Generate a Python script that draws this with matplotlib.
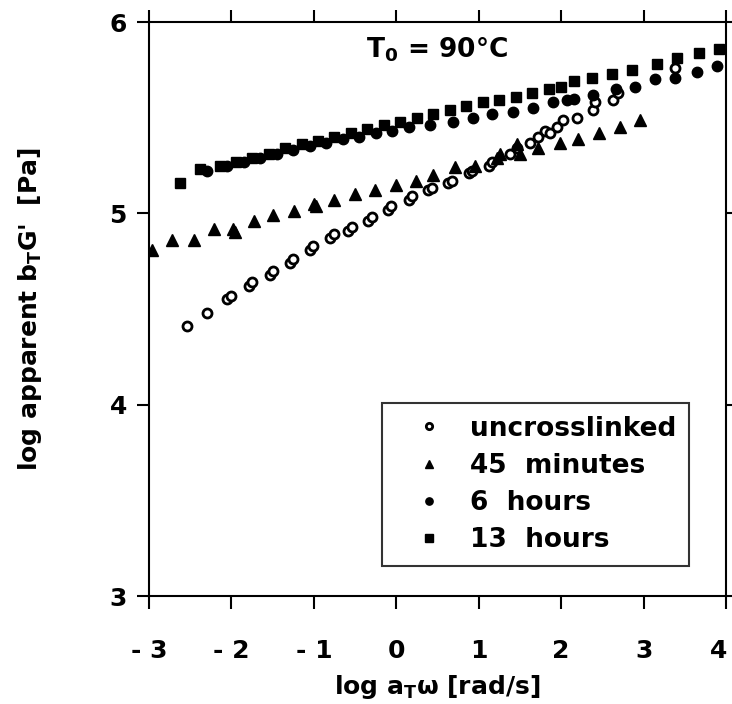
import matplotlib
matplotlib.use("Agg")
import matplotlib.pyplot as plt
from matplotlib.transforms import ScaledTranslation

plt.rcParams['font.family'] = ['DejaVu Sans']
plt.rcParams['font.weight'] = 'bold'
plt.rcParams['mathtext.fontset'] = 'custom'
plt.rcParams['mathtext.rm'] = 'DejaVu Sans:bold'
plt.rcParams['mathtext.bf'] = 'DejaVu Sans:bold'
plt.rcParams['mathtext.it'] = 'DejaVu Sans:bold'

# --- data ---
uncross_x = [-2.54, -2.30, -2.06, -2.01, -1.79, -1.75, -1.53, -1.49, -1.29, -1.25,
             -1.05, -1.01, -0.80, -0.76, -0.58, -0.54, -0.34, -0.30, -0.10, -0.06,
             0.15, 0.19, 0.39, 0.43, 0.63, 0.67, 0.88, 0.92, 1.12, 1.16,
             1.38, 1.46, 1.62, 1.72, 1.80, 1.87, 1.95, 2.02, 2.19, 2.39,
             2.41, 2.63, 2.69, 3.38]
uncross_y = [4.41, 4.48, 4.55, 4.57, 4.62, 4.64, 4.68, 4.70, 4.74, 4.76,
             4.81, 4.83, 4.87, 4.89, 4.91, 4.93, 4.96, 4.98, 5.02, 5.04,
             5.07, 5.09, 5.12, 5.13, 5.16, 5.17, 5.21, 5.22, 5.25, 5.27,
             5.31, 5.34, 5.37, 5.40, 5.43, 5.42, 5.45, 5.49, 5.50, 5.54,
             5.58, 5.59, 5.63, 5.76]

min45_x = [-2.97, -2.72, -2.46, -2.21, -1.98, -1.96, -1.73, -1.49, -1.24, -1.00,
           -0.98, -0.75, -0.50, -0.26, 0.00, 0.24, 0.45, 0.71, 0.96, 1.22,
           1.26, 1.46, 1.50, 1.72, 1.99, 2.21, 2.46, 2.71, 2.96]
min45_y = [4.81, 4.86, 4.86, 4.92, 4.92, 4.90, 4.96, 4.99, 5.01, 5.05,
           5.04, 5.07, 5.10, 5.12, 5.15, 5.17, 5.20, 5.24, 5.25, 5.29,
           5.31, 5.36, 5.31, 5.34, 5.37, 5.39, 5.42, 5.45, 5.49]

h6_x = [-2.30, -2.05, -1.85, -1.65, -1.45, -1.25, -1.05, -0.85, -0.65, -0.45,
        -0.25, -0.05, 0.15, 0.41, 0.69, 0.93, 1.16, 1.42, 1.66, 1.90,
        2.07, 2.15, 2.39, 2.66, 2.90, 3.14, 3.38, 3.65, 3.89]
h6_y = [5.22, 5.25, 5.27, 5.29, 5.31, 5.33, 5.35, 5.37, 5.39, 5.40,
        5.42, 5.43, 5.45, 5.46, 5.48, 5.50, 5.52, 5.53, 5.55, 5.58,
        5.59, 5.60, 5.62, 5.65, 5.66, 5.70, 5.71, 5.74, 5.77]

h13_x = [-2.63, -2.38, -2.14, -1.95, -1.75, -1.55, -1.35, -1.15, -0.95, -0.75,
         -0.55, -0.35, -0.15, 0.05, 0.25, 0.45, 0.65, 0.85, 1.05, 1.25,
         1.45, 1.65, 1.85, 2.00, 2.15, 2.37, 2.62, 2.86, 3.16, 3.41,
         3.67, 3.92]
h13_y = [5.16, 5.23, 5.25, 5.27, 5.29, 5.31, 5.34, 5.36, 5.38, 5.40,
         5.42, 5.44, 5.46, 5.48, 5.50, 5.52, 5.54, 5.56, 5.58, 5.59,
         5.61, 5.63, 5.65, 5.66, 5.69, 5.71, 5.73, 5.75, 5.78, 5.81,
         5.84, 5.86]

labels = ['uncrosslinked', '45  minutes', '6  hours', '13  hours']
x_ticks = [-3, -2, -1, 0, 1, 2, 3, 4]
x_ticklabels = ['- 3', '- 2', '- 1', '0', '1', '2', '3', '4']
y_ticks = [3, 4, 5, 6]

fig = plt.figure(figsize=(7.32, 7.04), dpi=100)
ax = fig.add_axes([0.2036, 0.1534, 0.7882, 0.8153])

ax.plot(uncross_x, uncross_y, 'o', ms=6.5, mfc='white', mec='black', mew=2.0,
        ls='none', label=labels[0])
ax.plot(min45_x, min45_y, '^', ms=8.5, color='black', ls='none', label=labels[1])
ax.plot(h6_x, h6_y, 'o', ms=7.5, color='black', ls='none', label=labels[2])
ax.plot(h13_x, h13_y, 's', ms=7.5, color='black', ls='none', label=labels[3])

ax.set_xlim(-3, 4)
ax.set_ylim(3, 6)
ax.set_xticks(x_ticks)
ax.set_xticklabels(x_ticklabels)
ax.set_yticks(y_ticks)
for s in ax.spines.values():
    s.set_linewidth(1.5)
ax.tick_params(axis='both', which='major', direction='out', length=9, width=1.5,
               top=True, right=True, labelsize=18)
ax.tick_params(axis='x', pad=22)
ax.tick_params(axis='y', pad=7)
# nudge the right-most tick label so it stays inside the canvas
last = ax.xaxis.get_major_ticks()[-1].label1
last.set_transform(last.get_transform() + ScaledTranslation(-5 / 72, 0, fig.dpi_scale_trans))

ax.set_xlabel(r'log a$_{\mathrm{T}}$ω [rad/s]', fontsize=18, fontweight='bold', labelpad=7)
ax.set_ylabel(r"log apparent b$_{\mathrm{T}}$G'  [Pa]", fontsize=18, fontweight='bold', labelpad=47)

ax.text(0.499, 0.951, r'T$_0$ = 90°C', transform=ax.transAxes, ha='center', va='center',
        fontsize=19, fontweight='bold')

leg = ax.legend(loc='lower right', bbox_to_anchor=(0.936, 0.052), borderaxespad=0,
                fontsize=19, frameon=True, fancybox=False, markerscale=0.7,
                handlelength=2.5, handletextpad=0.3, labelspacing=0.42,
                borderpad=0.5)
leg.get_frame().set_edgecolor('black')
leg.get_frame().set_linewidth(1.5)
for t in leg.get_texts():
    t.set_fontweight('bold')

fig.savefig('out.png', dpi=100)
